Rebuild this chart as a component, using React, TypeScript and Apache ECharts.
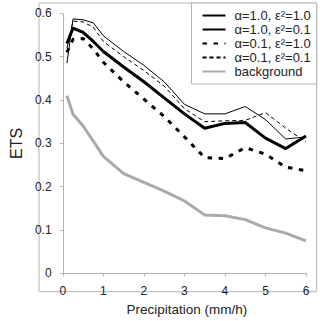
import React, { useEffect, useRef } from "react";
import * as echarts from "echarts";

const precip = [0.1, 0.25, 0.5, 0.75, 1, 1.5, 2, 2.5, 3, 3.5, 4, 4.5, 5, 5.5, 6];
const a10e10 = [0.53, 0.566, 0.556, 0.535, 0.512, 0.476, 0.442, 0.405, 0.368, 0.335, 0.346, 0.348, 0.312, 0.288, 0.317];
const a10e01 = [0.485, 0.587, 0.585, 0.578, 0.548, 0.512, 0.48, 0.442, 0.39, 0.368, 0.368, 0.385, 0.355, 0.31, 0.315];
const a01e10 = [0.51, 0.54, 0.542, 0.518, 0.487, 0.442, 0.402, 0.362, 0.315, 0.267, 0.265, 0.29, 0.275, 0.245, 0.237];
const a01e01 = [0.52, 0.582, 0.58, 0.568, 0.535, 0.5, 0.468, 0.432, 0.38, 0.35, 0.352, 0.353, 0.371, 0.335, 0.303];
const background = [0.41, 0.367, 0.34, 0.305, 0.27, 0.23, 0.21, 0.19, 0.167, 0.135, 0.133, 0.124, 0.105, 0.093, 0.075];
const names = ["α=1.0, ε²=1.0", "α=1.0, ε²=0.1", "α=0.1, ε²=1.0", "α=0.1, ε²=0.1", "background"];

const pair = (ys: number[]) => precip.map((x, i) => [x, ys[i]]);

export default function App() {
  const ref = useRef<HTMLDivElement>(null);
  useEffect(() => {
    const chart = echarts.init(ref.current!, null, { renderer: "svg" });
    const font = "Liberation Sans, Arial, sans-serif";
    const frame = "#b3b3b3";
    chart.setOption({
      animation: false,
      grid: { left: 44.3, right: 14, top: 13.3, bottom: 40 },
      xAxis: {
        type: "value",
        min: 0,
        max: 6,
        interval: 1,
        offset: 10.7,
        name: "Precipitation (mm/h)",
        nameLocation: "middle",
        nameGap: 12,
        nameTextStyle: { fontFamily: font, fontSize: 13.5, color: "#222", padding: [0, 0, 0, 5] },
        axisLine: { show: false },
        axisTick: { show: true, length: 3, lineStyle: { color: frame } },
        axisLabel: { fontFamily: font, fontSize: 12, color: "#222", margin: 1 },
        splitLine: { show: false },
      },
      yAxis: {
        type: "value",
        min: 0,
        max: 0.6,
        interval: 0.1,
        offset: 5.3,
        name: "ETS",
        nameLocation: "middle",
        nameGap: 26,
        nameTextStyle: { fontFamily: font, fontSize: 16, color: "#222" },
        axisLine: { show: false },
        axisTick: { show: true, length: 3, lineStyle: { color: frame } },
        axisLabel: { fontFamily: font, fontSize: 12, color: "#222", margin: 6 },
        splitLine: { show: false },
      },
      legend: {
        orient: "vertical",
        right: 3.3,
        top: 3,
        padding: [6, 6, 6, 10],
        itemGap: 1,
        itemWidth: 23,
        itemHeight: 14,
        borderColor: frame,
        borderWidth: 1,
        backgroundColor: "#fff",
        data: names,
        itemStyle: { opacity: 0 },
        textStyle: { fontFamily: font, fontSize: 13, color: "#222", padding: [0, 0, 0, 4] },
      },
      graphic: [
        {
          type: "rect",
          shape: { x: 39, y: 3, width: 277.7, height: 288.7 },
          style: { fill: "none", stroke: frame, lineWidth: 1 },
          silent: true,
          z: 0,
        },
      ],
      series: [
        {
          name: names[4],
          type: "line",
          data: pair(background),
          symbol: "none",
          color: "#aaaaaa",
          lineStyle: { color: "#aaaaaa", width: 3 },
          markLine: {
            silent: true,
            symbol: "none",
            label: { show: false },
            lineStyle: { color: frame, width: 1, type: "solid" },
            data: [{ xAxis: 0 }, { yAxis: 0 }],
          },
          z: 1,
        },
        {
          name: names[0],
          type: "line",
          data: pair(a10e10),
          symbol: "none",
          color: "#000",
          lineStyle: { color: "#000", width: 3 },
          z: 3,
        },
        {
          name: names[1],
          type: "line",
          data: pair(a10e01),
          symbol: "none",
          color: "#000",
          lineStyle: { color: "#000", width: 1 },
          z: 3,
        },
        {
          name: names[2],
          type: "line",
          data: pair(a01e10),
          symbol: "none",
          color: "#000",
          lineStyle: { color: "#000", width: 3, type: [4.5, 6.5], cap: "butt" },
          z: 3,
        },
        {
          name: names[3],
          type: "line",
          data: pair(a01e01),
          symbol: "none",
          color: "#000",
          lineStyle: { color: "#000", width: 1, type: [4, 3] },
          z: 3,
        },
      ],
    });
    return () => chart.dispose();
  }, []);
  return (
    <div
      ref={ref}
      style={{ position: "fixed", left: 0, top: 0, width: 320, height: 321, background: "#fff" }}
    />
  );
}
